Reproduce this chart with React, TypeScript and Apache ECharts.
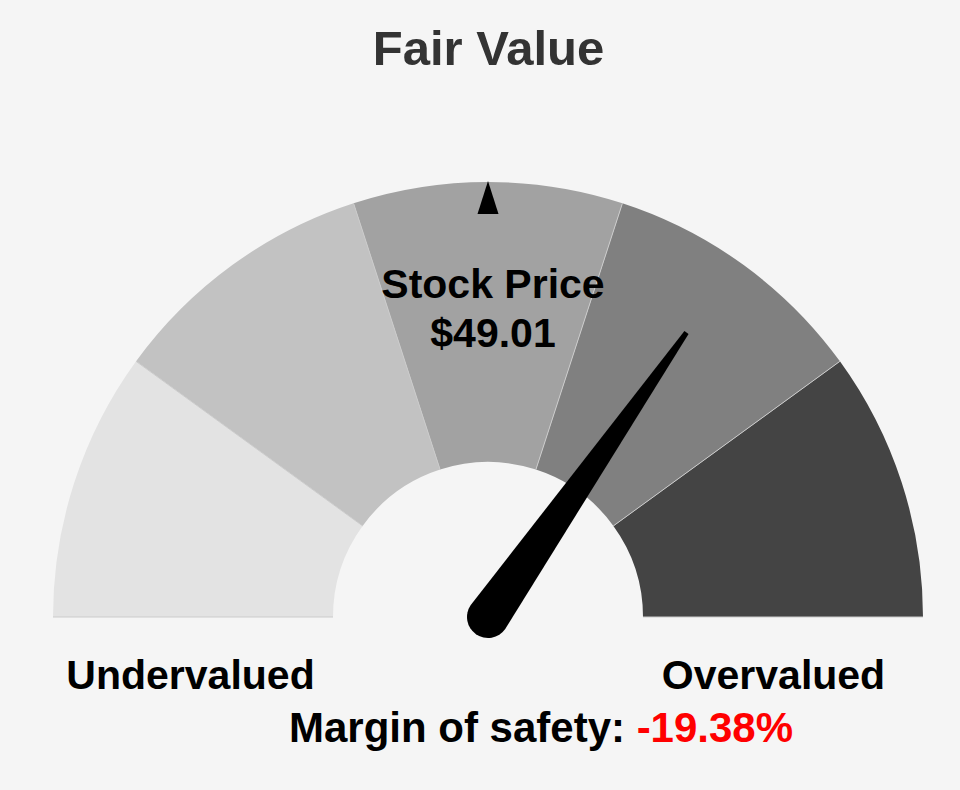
import React, { useEffect, useRef } from "react";
import * as echarts from "echarts";

// ---- data ----
const chartTitle = "Fair Value";
const stockPrice = 49.01;
const fairValue = 41.05;
const marginOfSafety = -19.38;
const gaugeRange = [20.53, 61.58]; // 50% .. 150% of fair value
const bandStops = [0.2, 0.4, 0.6, 0.8, 1];
const bandColors = ["#e3e3e3", "#c2c2c2", "#a2a2a2", "#808080", "#444444"];
const sideLabels = ["Undervalued", "Overvalued"];
const marginLabel = "Margin of safety: ";

const FONT = "'Liberation Sans', Arial, Helvetica, sans-serif";
const CX = 488;
const CY = 617;
const R = 435;
const BAND = 280;

export default function App() {
  const ref = useRef<HTMLDivElement>(null);

  useEffect(() => {
    document.body.style.margin = "0";
    document.body.style.background = "#f5f5f5";
    const chart = echarts.init(ref.current!, null, { renderer: "svg" });

    const needlePath =
      "path://M18.5 0 L23.5 0 L42 347 A21 21 0 0 1 0 347 Z";

    const option: any = {
      animation: false,
      backgroundColor: "#f5f5f5",
      series: [
        {
          type: "gauge",
          center: [CX, CY],
          radius: R,
          startAngle: 180,
          endAngle: 0,
          min: gaugeRange[0],
          max: gaugeRange[1],
          splitNumber: 5,
          axisLine: {
            lineStyle: {
              width: BAND,
              color: bandStops.map((s, i) => [s, bandColors[i]]),
            },
          },
          splitLine: {
            show: true,
            length: BAND,
            distance: -BAND,
            lineStyle: { color: "#cbcbcb", width: 1 },
          },
          axisTick: { show: false },
          axisLabel: { show: false },
          pointer: {
            show: true,
            icon: needlePath,
            width: 42,
            length: 368,
            offsetCenter: [0, 21],
            itemStyle: { color: "#000000" },
          },
          anchor: { show: false },
          title: { show: false },
          detail: {
            show: true,
            offsetCenter: [5, -309],
            fontFamily: FONT,
            fontWeight: "bold",
            fontSize: 41,
            lineHeight: 49,
            color: "#000000",
            formatter: (v: number) => `Stock Price\n$${v.toFixed(2)}`,
          },
          data: [{ value: stockPrice, name: "Stock Price" }],
        },
        {
          type: "gauge",
          center: [CX, CY],
          radius: R,
          startAngle: 180,
          endAngle: 0,
          min: gaugeRange[0],
          max: gaugeRange[1],
          axisLine: { show: false },
          splitLine: { show: false },
          axisTick: { show: false },
          axisLabel: { show: false },
          pointer: {
            show: true,
            icon: "triangle",
            width: 21,
            length: 33,
            offsetCenter: [0, -403],
            itemStyle: { color: "#000000" },
          },
          anchor: { show: false },
          title: { show: false },
          detail: { show: false },
          data: [{ value: fairValue, name: "Fair Value" }],
        },
      ],
      graphic: [
        {
          type: "text",
          x: 488.5,
          y: 47.5,
          style: {
            text: chartTitle,
            fill: "#333333",
            font: `bold 49px ${FONT}`,
            textAlign: "center",
            textVerticalAlign: "middle",
          },
        },
        {
          type: "text",
          x: 190.5,
          y: 674.5,
          style: {
            text: sideLabels[0],
            fill: "#000000",
            font: `bold 41px ${FONT}`,
            textAlign: "center",
            textVerticalAlign: "middle",
          },
        },
        {
          type: "text",
          x: 773.5,
          y: 674.5,
          style: {
            text: sideLabels[1],
            fill: "#000000",
            font: `bold 41px ${FONT}`,
            textAlign: "center",
            textVerticalAlign: "middle",
          },
        },
        {
          type: "text",
          x: 541,
          y: 727,
          style: {
            text: `{a|${marginLabel}}{b|${marginOfSafety.toFixed(2)}%}`,
            textAlign: "center",
            textVerticalAlign: "middle",
            rich: {
              a: {
                fontFamily: FONT,
                fontWeight: "bold",
                fontSize: 42,
                fill: "#000000",
                color: "#000000",
              },
              b: {
                fontFamily: FONT,
                fontWeight: "bold",
                fontSize: 42,
                fill: "#ff0000",
                color: "#ff0000",
              },
            },
          },
        },
      ],
    };

    chart.setOption(option);
    return () => chart.dispose();
  }, []);

  return (
    <div
      ref={ref}
      style={{ position: "absolute", left: 0, top: 0, width: 960, height: 790 }}
    />
  );
}
